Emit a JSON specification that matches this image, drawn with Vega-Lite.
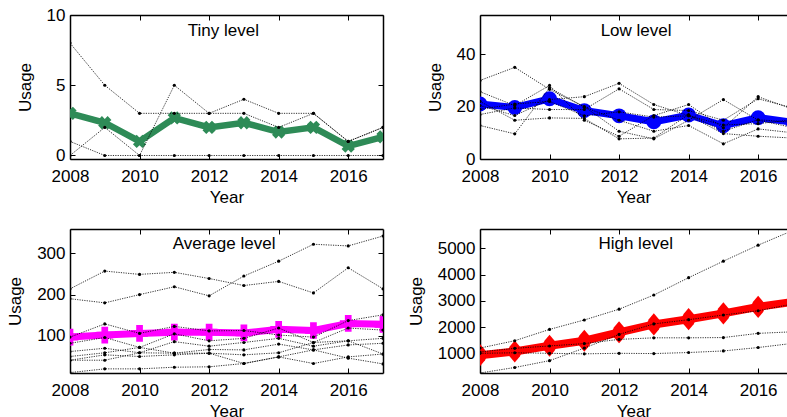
{
  "$schema": "https://vega.github.io/schema/vega-lite/v6.json",
  "autosize": "none",
  "padding": {"left": 70, "top": 15, "right": 717, "bottom": 402},
  "background": "white",
  "bounds": "flush",
  "columns": 2,
  "spacing": {"row": 70, "column": 97},
  "config": {
    "font": "Liberation Sans",
    "view": {"stroke": null},
    "axis": {"grid": false, "labelFontSize": 17, "titleFontSize": 17, "titleFontWeight": "normal", "labelColor": "black", "titleColor": "black", "domainColor": "black", "tickColor": "black", "domainWidth": 1.5, "tickWidth": 1, "tickSize": -5, "labelFont": "Liberation Sans", "titleFont": "Liberation Sans", "labelFlush": false, "labelOverlap": false},
    "text": {"font": "Liberation Sans", "fontSize": 17, "color": "black", "baseline": "alphabetic", "align": "center"}
  },
  "datasets": {
    "tiny": [
      {"yr":2008,"v":8,"s":"a"},{"yr":2009,"v":5,"s":"a"},{"yr":2010,"v":3,"s":"a"},{"yr":2011,"v":3,"s":"a"},{"yr":2012,"v":3,"s":"a"},{"yr":2013,"v":3,"s":"a"},{"yr":2014,"v":2,"s":"a"},{"yr":2015,"v":3,"s":"a"},{"yr":2016,"v":1,"s":"a"},{"yr":2017,"v":2,"s":"a"},
      {"yr":2008,"v":0,"s":"b"},{"yr":2009,"v":2,"s":"b"},{"yr":2010,"v":0,"s":"b"},{"yr":2011,"v":5,"s":"b"},{"yr":2012,"v":3,"s":"b"},{"yr":2013,"v":4,"s":"b"},{"yr":2014,"v":3,"s":"b"},{"yr":2015,"v":3,"s":"b"},{"yr":2016,"v":1,"s":"b"},{"yr":2017,"v":2,"s":"b"},
      {"yr":2008,"v":1,"s":"c"},{"yr":2009,"v":0,"s":"c"},{"yr":2010,"v":0,"s":"c"},{"yr":2011,"v":0,"s":"c"},{"yr":2012,"v":0,"s":"c"},{"yr":2013,"v":0,"s":"c"},{"yr":2014,"v":0,"s":"c"},{"yr":2015,"v":0,"s":"c"},{"yr":2016,"v":0,"s":"c"},{"yr":2017,"v":0,"s":"c"},
      {"yr":2008,"v":3,"s":"m"},{"yr":2009,"v":2.33,"s":"m"},{"yr":2010,"v":1,"s":"m"},{"yr":2011,"v":2.67,"s":"m"},{"yr":2012,"v":2,"s":"m"},{"yr":2013,"v":2.33,"s":"m"},{"yr":2014,"v":1.67,"s":"m"},{"yr":2015,"v":2,"s":"m"},{"yr":2016,"v":0.67,"s":"m"},{"yr":2017,"v":1.33,"s":"m"}
    ],
    "low": [
      {"yr":2008,"v":30,"s":"a"},{"yr":2009,"v":35,"s":"a"},{"yr":2010,"v":26.6,"s":"a"},{"yr":2011,"v":20,"s":"a"},{"yr":2012,"v":10.6,"s":"a"},{"yr":2013,"v":7.7,"s":"a"},{"yr":2014,"v":14.8,"s":"a"},{"yr":2015,"v":22.7,"s":"a"},{"yr":2016,"v":14.8,"s":"a"},{"yr":2017,"v":12,"s":"a"},
      {"yr":2008,"v":25.7,"s":"b"},{"yr":2009,"v":20.4,"s":"b"},{"yr":2010,"v":28.1,"s":"b"},{"yr":2011,"v":14.8,"s":"b"},{"yr":2012,"v":8.7,"s":"b"},{"yr":2013,"v":16.6,"s":"b"},{"yr":2014,"v":20.8,"s":"b"},{"yr":2015,"v":11.9,"s":"b"},{"yr":2016,"v":23.8,"s":"b"},{"yr":2017,"v":19,"s":"b"},
      {"yr":2008,"v":20.4,"s":"c"},{"yr":2009,"v":16.6,"s":"c"},{"yr":2010,"v":22.7,"s":"c"},{"yr":2011,"v":23.8,"s":"c"},{"yr":2012,"v":28.9,"s":"c"},{"yr":2013,"v":20.8,"s":"c"},{"yr":2014,"v":16.6,"s":"c"},{"yr":2015,"v":9.7,"s":"c"},{"yr":2016,"v":8.7,"s":"c"},{"yr":2017,"v":8,"s":"c"},
      {"yr":2008,"v":17,"s":"d"},{"yr":2009,"v":19.5,"s":"d"},{"yr":2010,"v":18.9,"s":"d"},{"yr":2011,"v":18.9,"s":"d"},{"yr":2012,"v":26.8,"s":"d"},{"yr":2013,"v":18.9,"s":"d"},{"yr":2014,"v":18.5,"s":"d"},{"yr":2015,"v":14.8,"s":"d"},{"yr":2016,"v":23,"s":"d"},{"yr":2017,"v":19.5,"s":"d"},
      {"yr":2008,"v":12.8,"s":"e"},{"yr":2009,"v":9.6,"s":"e"},{"yr":2010,"v":27.2,"s":"e"},{"yr":2011,"v":19.8,"s":"e"},{"yr":2012,"v":14.8,"s":"e"},{"yr":2013,"v":10.6,"s":"e"},{"yr":2014,"v":12.8,"s":"e"},{"yr":2015,"v":5.8,"s":"e"},{"yr":2016,"v":11.5,"s":"e"},{"yr":2017,"v":10,"s":"e"},
      {"yr":2008,"v":22,"s":"f"},{"yr":2009,"v":14.8,"s":"f"},{"yr":2010,"v":15.7,"s":"f"},{"yr":2011,"v":15.5,"s":"f"},{"yr":2012,"v":7.7,"s":"f"},{"yr":2013,"v":8,"s":"f"},{"yr":2014,"v":17,"s":"f"},{"yr":2015,"v":10.6,"s":"f"},{"yr":2016,"v":15,"s":"f"},{"yr":2017,"v":14,"s":"f"},
      {"yr":2008,"v":19,"s":"g"},{"yr":2009,"v":21,"s":"g"},{"yr":2010,"v":22,"s":"g"},{"yr":2011,"v":16.5,"s":"g"},{"yr":2012,"v":18,"s":"g"},{"yr":2013,"v":16,"s":"g"},{"yr":2014,"v":16.5,"s":"g"},{"yr":2015,"v":13,"s":"g"},{"yr":2016,"v":13.5,"s":"g"},{"yr":2017,"v":15,"s":"g"},
      {"yr":2008,"v":21,"s":"m"},{"yr":2009,"v":19.7,"s":"m"},{"yr":2010,"v":23,"s":"m"},{"yr":2011,"v":18.5,"s":"m"},{"yr":2012,"v":16.5,"s":"m"},{"yr":2013,"v":14.2,"s":"m"},{"yr":2014,"v":16.8,"s":"m"},{"yr":2015,"v":12.7,"s":"m"},{"yr":2016,"v":15.8,"s":"m"},{"yr":2017,"v":14,"s":"m"}
    ],
    "avg": [
      {"yr":2008,"v":214,"s":"a"},{"yr":2009,"v":257,"s":"a"},{"yr":2010,"v":249,"s":"a"},{"yr":2011,"v":254,"s":"a"},{"yr":2012,"v":239,"s":"a"},{"yr":2013,"v":222,"s":"a"},{"yr":2014,"v":232,"s":"a"},{"yr":2015,"v":204,"s":"a"},{"yr":2016,"v":265,"s":"a"},{"yr":2017,"v":214,"s":"a"},
      {"yr":2008,"v":190,"s":"b"},{"yr":2009,"v":180,"s":"b"},{"yr":2010,"v":200,"s":"b"},{"yr":2011,"v":219,"s":"b"},{"yr":2012,"v":197,"s":"b"},{"yr":2013,"v":245,"s":"b"},{"yr":2014,"v":281,"s":"b"},{"yr":2015,"v":322,"s":"b"},{"yr":2016,"v":318,"s":"b"},{"yr":2017,"v":342,"s":"b"},
      {"yr":2008,"v":97,"s":"c"},{"yr":2009,"v":129,"s":"c"},{"yr":2010,"v":106,"s":"c"},{"yr":2011,"v":123,"s":"c"},{"yr":2012,"v":112,"s":"c"},{"yr":2013,"v":113,"s":"c"},{"yr":2014,"v":102,"s":"c"},{"yr":2015,"v":97,"s":"c"},{"yr":2016,"v":137,"s":"c"},{"yr":2017,"v":151,"s":"c"},
      {"yr":2008,"v":82,"s":"d"},{"yr":2009,"v":96,"s":"d"},{"yr":2010,"v":72,"s":"d"},{"yr":2011,"v":105,"s":"d"},{"yr":2012,"v":88,"s":"d"},{"yr":2013,"v":94,"s":"d"},{"yr":2014,"v":119,"s":"d"},{"yr":2015,"v":84,"s":"d"},{"yr":2016,"v":119,"s":"d"},{"yr":2017,"v":114,"s":"d"},
      {"yr":2008,"v":62,"s":"e"},{"yr":2009,"v":70,"s":"e"},{"yr":2010,"v":59,"s":"e"},{"yr":2011,"v":86,"s":"e"},{"yr":2012,"v":75,"s":"e"},{"yr":2013,"v":84,"s":"e"},{"yr":2014,"v":94,"s":"e"},{"yr":2015,"v":75,"s":"e"},{"yr":2016,"v":88,"s":"e"},{"yr":2017,"v":94,"s":"e"},
      {"yr":2008,"v":50,"s":"f"},{"yr":2009,"v":59,"s":"f"},{"yr":2010,"v":72,"s":"f"},{"yr":2011,"v":58,"s":"f"},{"yr":2012,"v":67,"s":"f"},{"yr":2013,"v":66,"s":"f"},{"yr":2014,"v":80,"s":"f"},{"yr":2015,"v":66,"s":"f"},{"yr":2016,"v":78,"s":"f"},{"yr":2017,"v":82,"s":"f"},
      {"yr":2008,"v":41,"s":"g"},{"yr":2009,"v":54,"s":"g"},{"yr":2010,"v":50,"s":"g"},{"yr":2011,"v":54,"s":"g"},{"yr":2012,"v":58,"s":"g"},{"yr":2013,"v":54,"s":"g"},{"yr":2014,"v":59,"s":"g"},{"yr":2015,"v":84,"s":"g"},{"yr":2016,"v":88,"s":"g"},{"yr":2017,"v":56,"s":"g"},
      {"yr":2008,"v":41,"s":"h"},{"yr":2009,"v":41,"s":"h"},{"yr":2010,"v":59,"s":"h"},{"yr":2011,"v":58,"s":"h"},{"yr":2012,"v":58,"s":"h"},{"yr":2013,"v":33,"s":"h"},{"yr":2014,"v":49,"s":"h"},{"yr":2015,"v":66,"s":"h"},{"yr":2016,"v":46,"s":"h"},{"yr":2017,"v":32,"s":"h"},
      {"yr":2008,"v":11,"s":"i"},{"yr":2009,"v":20,"s":"i"},{"yr":2010,"v":20,"s":"i"},{"yr":2011,"v":24,"s":"i"},{"yr":2012,"v":25,"s":"i"},{"yr":2013,"v":33,"s":"i"},{"yr":2014,"v":49,"s":"i"},{"yr":2015,"v":33,"s":"i"},{"yr":2016,"v":49,"s":"i"},{"yr":2017,"v":56,"s":"i"},
      {"yr":2008,"v":97,"s":"m"},{"yr":2009,"v":102,"s":"m"},{"yr":2010,"v":106,"s":"m"},{"yr":2011,"v":109,"s":"m"},{"yr":2012,"v":109,"s":"m"},{"yr":2013,"v":107,"s":"m"},{"yr":2014,"v":116,"s":"m"},{"yr":2015,"v":113,"s":"m"},{"yr":2016,"v":130,"s":"m"},{"yr":2017,"v":128,"s":"m"}
    ],
    "high": [
      {"yr":2008,"v":1200,"s":"a"},{"yr":2009,"v":1480,"s":"a"},{"yr":2010,"v":1910,"s":"a"},{"yr":2011,"v":2270,"s":"a"},{"yr":2012,"v":2680,"s":"a"},{"yr":2013,"v":3220,"s":"a"},{"yr":2014,"v":3880,"s":"a"},{"yr":2015,"v":4510,"s":"a"},{"yr":2016,"v":5120,"s":"a"},{"yr":2017,"v":5680,"s":"a"},
      {"yr":2008,"v":1050,"s":"b"},{"yr":2009,"v":1190,"s":"b"},{"yr":2010,"v":1280,"s":"b"},{"yr":2011,"v":1370,"s":"b"},{"yr":2012,"v":1530,"s":"b"},{"yr":2013,"v":1590,"s":"b"},{"yr":2014,"v":1590,"s":"b"},{"yr":2015,"v":1600,"s":"b"},{"yr":2016,"v":1760,"s":"b"},{"yr":2017,"v":1820,"s":"b"},
      {"yr":2008,"v":1000,"s":"c"},{"yr":2009,"v":1020,"s":"c"},{"yr":2010,"v":1000,"s":"c"},{"yr":2011,"v":980,"s":"c"},{"yr":2012,"v":1000,"s":"c"},{"yr":2013,"v":990,"s":"c"},{"yr":2014,"v":1030,"s":"c"},{"yr":2015,"v":1090,"s":"c"},{"yr":2016,"v":1220,"s":"c"},{"yr":2017,"v":1380,"s":"c"},
      {"yr":2008,"v":250,"s":"d"},{"yr":2009,"v":460,"s":"d"},{"yr":2010,"v":720,"s":"d"},{"yr":2011,"v":1200,"s":"d"},{"yr":2012,"v":1720,"s":"d"},{"yr":2013,"v":2120,"s":"d"},{"yr":2014,"v":2280,"s":"d"},{"yr":2015,"v":2460,"s":"d"},{"yr":2016,"v":2620,"s":"d"},{"yr":2017,"v":2880,"s":"d"},
      {"yr":2008,"v":930,"s":"m"},{"yr":2009,"v":1070,"s":"m"},{"yr":2010,"v":1290,"s":"m"},{"yr":2011,"v":1480,"s":"m"},{"yr":2012,"v":1800,"s":"m"},{"yr":2013,"v":2100,"s":"m"},{"yr":2014,"v":2300,"s":"m"},{"yr":2015,"v":2520,"s":"m"},{"yr":2016,"v":2770,"s":"m"},{"yr":2017,"v":2960,"s":"m"}
    ]
  },
  "concat": [
    {
      "width": 313, "height": 144,
      "data": {"name": "tiny"},
      "layer": [
        {"transform": [{"filter": "datum.s == 'm'"}], "mark": {"type": "line", "color": "#2E8B57", "strokeWidth": 6.5, "clip": true},
         "encoding": {
           "x": {"field": "yr", "type": "quantitative", "scale": {"domain": [2008, 2017], "nice": false, "zero": false}, "axis": {"orient": "bottom", "values": [2008, 2010, 2012, 2014, 2016], "format": "d", "title": "Year", "labelPadding": 14, "titlePadding": 5}},
           "y": {"field": "v", "type": "quantitative", "scale": {"domain": [-0.25, 10], "nice": false, "zero": false}, "axis": {"orient": "left", "values": [0, 5, 10], "title": "Usage", "labelPadding": 10, "titlePadding": 12}}}},
        {"transform": [{"filter": "datum.s == 'm'"}], "mark": {"type": "point", "shape": "cross", "angle": 45, "filled": true, "size": 180, "color": "#2E8B57", "opacity": 1, "clip": true},
         "encoding": {
           "x": {"field": "yr", "type": "quantitative", "scale": {"domain": [2008, 2017], "nice": false, "zero": false}, "axis": null},
           "y": {"field": "v", "type": "quantitative", "scale": {"domain": [-0.25, 10], "nice": false, "zero": false}, "axis": null}}},
        {"transform": [{"filter": "datum.s != 'm'"}], "mark": {"type": "line", "color": "black", "strokeWidth": 1, "strokeDash": [1.2, 1.2], "opacity": 0.8, "clip": true},
         "encoding": {
           "detail": {"field": "s"},
           "x": {"field": "yr", "type": "quantitative", "scale": {"domain": [2008, 2017], "nice": false, "zero": false}, "axis": null},
           "y": {"field": "v", "type": "quantitative", "scale": {"domain": [-0.25, 10], "nice": false, "zero": false}, "axis": null}}},
        {"transform": [{"filter": "datum.s != 'm'"}], "mark": {"type": "point", "filled": true, "size": 10, "color": "black", "opacity": 1, "clip": true},
         "encoding": {
           "x": {"field": "yr", "type": "quantitative", "scale": {"domain": [2008, 2017], "nice": false, "zero": false}, "axis": {"orient": "top", "values": [2008, 2010, 2012, 2014, 2016], "labels": false, "title": null}},
           "y": {"field": "v", "type": "quantitative", "scale": {"domain": [-0.25, 10], "nice": false, "zero": false}, "axis": {"orient": "right", "values": [0, 5, 10], "labels": false, "title": null}}}},
        {"data": {"values": [{"label": "Tiny level"}]}, "mark": {"type": "text"},
         "encoding": {
           "text": {"field": "label"},
           "x": {"datum": 2012.41, "type": "quantitative", "scale": {"domain": [2008, 2017], "nice": false, "zero": false}, "axis": null},
           "y": {"datum": 8.53, "type": "quantitative", "scale": {"domain": [-0.25, 10], "nice": false, "zero": false}, "axis": null}}}
      ],
      "resolve": {"axis": {"x": "independent", "y": "independent"}}
    },
    {
      "width": 307, "height": 144,
      "data": {"name": "low"},
      "layer": [
        {"transform": [{"filter": "datum.s == 'm'"}], "mark": {"type": "line", "color": "#0000FF", "strokeWidth": 7, "clip": true},
         "encoding": {
           "x": {"field": "yr", "type": "quantitative", "scale": {"domain": [2008, 2016.83], "nice": false, "zero": false}, "axis": {"orient": "bottom", "values": [2008, 2010, 2012, 2014, 2016], "format": "d", "title": "Year", "labelPadding": 14, "titlePadding": 5}},
           "y": {"field": "v", "type": "quantitative", "scale": {"domain": [0, 55], "nice": false, "zero": false}, "axis": {"orient": "left", "values": [0, 20, 40], "title": "Usage", "labelPadding": 10, "titlePadding": 12}}}},
        {"transform": [{"filter": "datum.s == 'm'"}], "mark": {"type": "point", "shape": "circle", "filled": true, "size": 220, "color": "#0000FF", "opacity": 1, "clip": true},
         "encoding": {
           "x": {"field": "yr", "type": "quantitative", "scale": {"domain": [2008, 2016.83], "nice": false, "zero": false}, "axis": null},
           "y": {"field": "v", "type": "quantitative", "scale": {"domain": [0, 55], "nice": false, "zero": false}, "axis": null}}},
        {"transform": [{"filter": "datum.s != 'm'"}], "mark": {"type": "line", "color": "black", "strokeWidth": 1, "strokeDash": [1.2, 1.2], "opacity": 0.8, "clip": true},
         "encoding": {
           "detail": {"field": "s"},
           "x": {"field": "yr", "type": "quantitative", "scale": {"domain": [2008, 2016.83], "nice": false, "zero": false}, "axis": null},
           "y": {"field": "v", "type": "quantitative", "scale": {"domain": [0, 55], "nice": false, "zero": false}, "axis": null}}},
        {"transform": [{"filter": "datum.s != 'm'"}], "mark": {"type": "point", "filled": true, "size": 10, "color": "black", "opacity": 1, "clip": true},
         "encoding": {
           "x": {"field": "yr", "type": "quantitative", "scale": {"domain": [2008, 2016.83], "nice": false, "zero": false}, "axis": {"orient": "top", "values": [2008, 2010, 2012, 2014, 2016], "labels": false, "title": null}},
           "y": {"field": "v", "type": "quantitative", "scale": {"domain": [0, 55], "nice": false, "zero": false}, "axis": null}}},
        {"data": {"values": [{"label": "Low level"}]}, "mark": {"type": "text"},
         "encoding": {
           "text": {"field": "label"},
           "x": {"datum": 2012.49, "type": "quantitative", "scale": {"domain": [2008, 2016.83], "nice": false, "zero": false}, "axis": null},
           "y": {"datum": 47.07, "type": "quantitative", "scale": {"domain": [0, 55], "nice": false, "zero": false}, "axis": null}}}
      ],
      "resolve": {"axis": {"x": "independent", "y": "independent"}}
    },
    {
      "width": 313, "height": 144,
      "data": {"name": "avg"},
      "layer": [
        {"transform": [{"filter": "datum.s == 'm'"}], "mark": {"type": "line", "color": "#FF00FF", "strokeWidth": 7, "clip": true},
         "encoding": {
           "x": {"field": "yr", "type": "quantitative", "scale": {"domain": [2008, 2017], "nice": false, "zero": false}, "axis": {"orient": "bottom", "values": [2008, 2010, 2012, 2014, 2016], "format": "d", "title": "Year", "labelPadding": 14, "titlePadding": 5}},
           "y": {"field": "v", "type": "quantitative", "scale": {"domain": [10, 359], "nice": false, "zero": false}, "axis": {"orient": "left", "values": [100, 200, 300], "title": "Usage", "labelPadding": 10, "titlePadding": 12}}}},
        {"transform": [{"filter": "datum.s == 'm'"}], "mark": {"type": "point", "shape": "cross", "filled": true, "size": 280, "color": "#FF00FF", "opacity": 1, "clip": true},
         "encoding": {
           "x": {"field": "yr", "type": "quantitative", "scale": {"domain": [2008, 2017], "nice": false, "zero": false}, "axis": null},
           "y": {"field": "v", "type": "quantitative", "scale": {"domain": [10, 359], "nice": false, "zero": false}, "axis": null}}},
        {"transform": [{"filter": "datum.s != 'm'"}], "mark": {"type": "line", "color": "black", "strokeWidth": 1, "strokeDash": [1.2, 1.2], "opacity": 0.8, "clip": true},
         "encoding": {
           "detail": {"field": "s"},
           "x": {"field": "yr", "type": "quantitative", "scale": {"domain": [2008, 2017], "nice": false, "zero": false}, "axis": null},
           "y": {"field": "v", "type": "quantitative", "scale": {"domain": [10, 359], "nice": false, "zero": false}, "axis": null}}},
        {"transform": [{"filter": "datum.s != 'm'"}], "mark": {"type": "point", "filled": true, "size": 10, "color": "black", "opacity": 1, "clip": true},
         "encoding": {
           "x": {"field": "yr", "type": "quantitative", "scale": {"domain": [2008, 2017], "nice": false, "zero": false}, "axis": {"orient": "top", "values": [2008, 2010, 2012, 2014, 2016], "labels": false, "title": null}},
           "y": {"field": "v", "type": "quantitative", "scale": {"domain": [10, 359], "nice": false, "zero": false}, "axis": {"orient": "right", "values": [100, 200, 300], "labels": false, "title": null}}}},
        {"data": {"values": [{"label": "Average level"}]}, "mark": {"type": "text"},
         "encoding": {
           "text": {"field": "label"},
           "x": {"datum": 2012.43, "type": "quantitative", "scale": {"domain": [2008, 2017], "nice": false, "zero": false}, "axis": null},
           "y": {"datum": 311, "type": "quantitative", "scale": {"domain": [10, 359], "nice": false, "zero": false}, "axis": null}}}
      ],
      "resolve": {"axis": {"x": "independent", "y": "independent"}}
    },
    {
      "width": 307, "height": 144,
      "data": {"name": "high"},
      "layer": [
        {"transform": [{"filter": "datum.s == 'm'"}], "mark": {"type": "line", "color": "#FF0000", "strokeWidth": 8, "clip": true},
         "encoding": {
           "x": {"field": "yr", "type": "quantitative", "scale": {"domain": [2008, 2016.83], "nice": false, "zero": false}, "axis": {"orient": "bottom", "values": [2008, 2010, 2012, 2014, 2016], "format": "d", "title": "Year", "labelPadding": 14, "titlePadding": 5}},
           "y": {"field": "v", "type": "quantitative", "scale": {"domain": [250, 5735], "nice": false, "zero": false}, "axis": {"orient": "left", "values": [1000, 2000, 3000, 4000, 5000], "format": "d", "title": "Usage", "labelPadding": 10, "titlePadding": 12}}}},
        {"transform": [{"filter": "datum.s == 'm'"}], "mark": {"type": "point", "shape": "M0,-1.2L0.55,-0.55L0.8,0L0.55,0.55L0,1.2L-0.55,0.55L-0.8,0L-0.55,-0.55Z", "filled": true, "size": 340, "color": "#FF0000", "opacity": 1, "clip": true},
         "encoding": {
           "x": {"field": "yr", "type": "quantitative", "scale": {"domain": [2008, 2016.83], "nice": false, "zero": false}, "axis": null},
           "y": {"field": "v", "type": "quantitative", "scale": {"domain": [250, 5735], "nice": false, "zero": false}, "axis": null}}},
        {"transform": [{"filter": "datum.s != 'm'"}], "mark": {"type": "line", "color": "black", "strokeWidth": 1, "strokeDash": [1.2, 1.2], "opacity": 0.8, "clip": true},
         "encoding": {
           "detail": {"field": "s"},
           "x": {"field": "yr", "type": "quantitative", "scale": {"domain": [2008, 2016.83], "nice": false, "zero": false}, "axis": null},
           "y": {"field": "v", "type": "quantitative", "scale": {"domain": [250, 5735], "nice": false, "zero": false}, "axis": null}}},
        {"transform": [{"filter": "datum.s != 'm'"}], "mark": {"type": "point", "filled": true, "size": 10, "color": "black", "opacity": 1, "clip": true},
         "encoding": {
           "x": {"field": "yr", "type": "quantitative", "scale": {"domain": [2008, 2016.83], "nice": false, "zero": false}, "axis": {"orient": "top", "values": [2008, 2010, 2012, 2014, 2016], "labels": false, "title": null}},
           "y": {"field": "v", "type": "quantitative", "scale": {"domain": [250, 5735], "nice": false, "zero": false}, "axis": null}}},
        {"data": {"values": [{"label": "High level"}]}, "mark": {"type": "text"},
         "encoding": {
           "text": {"field": "label"},
           "x": {"datum": 2012.48, "type": "quantitative", "scale": {"domain": [2008, 2016.83], "nice": false, "zero": false}, "axis": null},
           "y": {"datum": 4973, "type": "quantitative", "scale": {"domain": [250, 5735], "nice": false, "zero": false}, "axis": null}}}
      ],
      "resolve": {"axis": {"x": "independent", "y": "independent"}}
    }
  ]
}
